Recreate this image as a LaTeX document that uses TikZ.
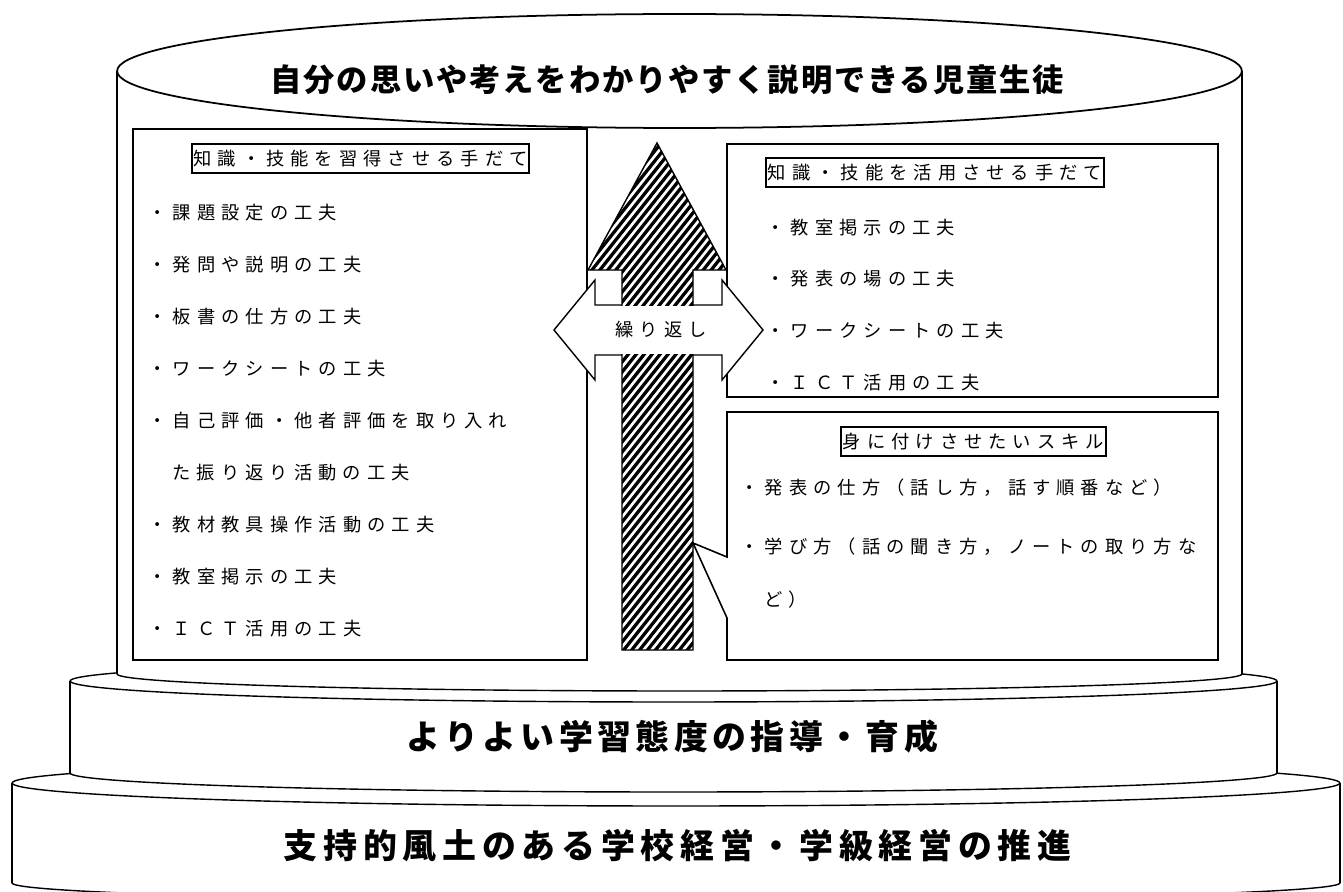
\documentclass[tikz,border=0pt]{standalone}
\usepackage{fontspec}
\newfontfamily\jps[LetterSpace=33]{Noto Sans CJK JP}
\newfontfamily\jpt[LetterSpace=6]{Noto Sans CJK JP}
\newfontfamily\jpm[LetterSpace=13]{Noto Sans CJK JP}
\newfontfamily\jpb[LetterSpace=17]{Noto Sans CJK JP}
\tikzset{
  item/.style={anchor=west, inner sep=0pt, font=\jps\fontsize{10.4pt}{12pt}\selectfont},
  hdr/.style={draw, line width=1.3pt, inner sep=0pt, minimum height=0.58cm, font=\jps\fontsize{10.4pt}{12pt}\selectfont},
  big/.style={anchor=west, inner sep=0pt},
  panel/.style={draw, fill=white, line width=0.9pt},
}
\begin{document}
\begin{tikzpicture}[x=0.02cm, y=-0.02cm, line width=0.8pt, line join=miter]
\useasboundingbox (0,0) rectangle (1343,892);

% bottom cylinder
\filldraw[fill=white] (676,883) ellipse [x radius=13.28cm, y radius=0.36cm];
\fill[white] (12,783) rectangle (1340,883);
\draw (12,783) -- (12,883) (1340,783) -- (1340,883);
\filldraw[fill=white] (676,783) ellipse [x radius=13.28cm, y radius=0.46cm];

% middle cylinder
\filldraw[fill=white] (673.5,773) ellipse [x radius=12.07cm, y radius=0.38cm];
\fill[white] (70,681) rectangle (1277,773);
\draw (70,681) -- (70,773) (1277,681) -- (1277,773);
\filldraw[fill=white] (673.5,681) ellipse [x radius=12.07cm, y radius=0.42cm];

% top cylinder
\filldraw[fill=white] (679.5,674) ellipse [x radius=11.25cm, y radius=0.34cm];
\fill[white] (117,71) rectangle (1242,674);
\draw (117,71) -- (117,674) (1242,71) -- (1242,674);
\filldraw[fill=white, line width=1pt] (679.5,71) ellipse [x radius=11.25cm, y radius=1.14cm];

% texts of cylinders
\node[big, font=\jpt\bfseries\fontsize{17.8pt}{20pt}\selectfont] (title) at (270,80) {自分の思いや考えをわかりやすく説明できる児童生徒};
\node[big, font=\jpm\bfseries\fontsize{19.3pt}{22pt}\selectfont] (mid) at (406,737) {よりよい学習態度の指導・育成};
\node[big, font=\jpb\bfseries\fontsize{19.3pt}{22pt}\selectfont] (bot) at (283,846) {支持的風土のある学校経営・学級経営の推進};

% panels
\draw[panel] (133,129) rectangle (587,660);
\draw[panel] (727,144) rectangle (1218,397);
\draw[panel] (727,412) -- (1218,412) -- (1218,660) -- (727,660) -- (727,618) -- (693,543) -- (727,557) -- cycle;

% left panel texts
\node[hdr, minimum width=6.74cm] (h1) at (360.5,158.5) {知識・技能を習得させる手だて};
\node[item] (a1) at (148,213) {・課題設定の工夫};
\node[item] (a2) at (148,265) {・発問や説明の工夫};
\node[item] (a3) at (148,317) {・板書の仕方の工夫};
\node[item] (a4) at (148,369) {・ワークシートの工夫};
\node[item] (a5) at (148,421) {・自己評価・他者評価を取り入れ};
\node[item] (a6) at (172,473) {た振り返り活動の工夫};
\node[item] (a7) at (148,525) {・教材教具操作活動の工夫};
\node[item] (a8) at (148,577) {・教室掲示の工夫};
\node[item] (a9) at (148,629) {・ＩＣＴ活用の工夫};

% right top panel texts
\node[hdr, minimum width=6.76cm] (h2) at (935,172.5) {知識・技能を活用させる手だて};
\node[item] (b1) at (766,228) {・教室掲示の工夫};
\node[item] (b2) at (766,279) {・発表の場の工夫};
\node[item] (b3) at (766,331) {・ワークシートの工夫};
\node[item] (b4) at (766,383) {・ＩＣＴ活用の工夫};

% right bottom panel texts
\node[hdr, minimum width=5.3cm] (h3) at (973.5,441.5) {身に付けさせたいスキル};
\node[item] (c1) at (740,488) {・発表の仕方（話し方，話す順番など）};
\node[item] (c2) at (740,547) {・学び方（話の聞き方，ノートの取り方な};
\node[item] (c3) at (764,600) {ど）};

% double arrow (behind up arrow)
\filldraw[fill=white] (554,330) -- (595,280) -- (595,305) -- (722,305) -- (722,280) -- (763,330) -- (722,380) -- (722,355) -- (595,355) -- (595,380) -- cycle;

% up arrow, hatched
\begin{scope}
  \clip (657,143) -- (726,270) -- (693,270) -- (693,650) -- (622,650) -- (622,270) -- (588,270) -- cycle;
  \fill[black] (580,135) rectangle (735,660);
  \foreach \c in {140,150,...,840} {
    \draw[white, line width=1.5pt] (580,\c) -- (735,\c-195);
  }
\end{scope}
\draw (657,143) -- (726,270) -- (693,270) -- (693,650) -- (622,650) -- (622,270) -- (588,270) -- cycle;

% body of double arrow over the shaft
\fill[white] (596,306) rectangle (721,354);
\node[inner sep=0pt, font=\jps\fontsize{10.4pt}{12pt}\selectfont] (rep) at (661,330) {繰り返し};
\end{tikzpicture}
\end{document}
